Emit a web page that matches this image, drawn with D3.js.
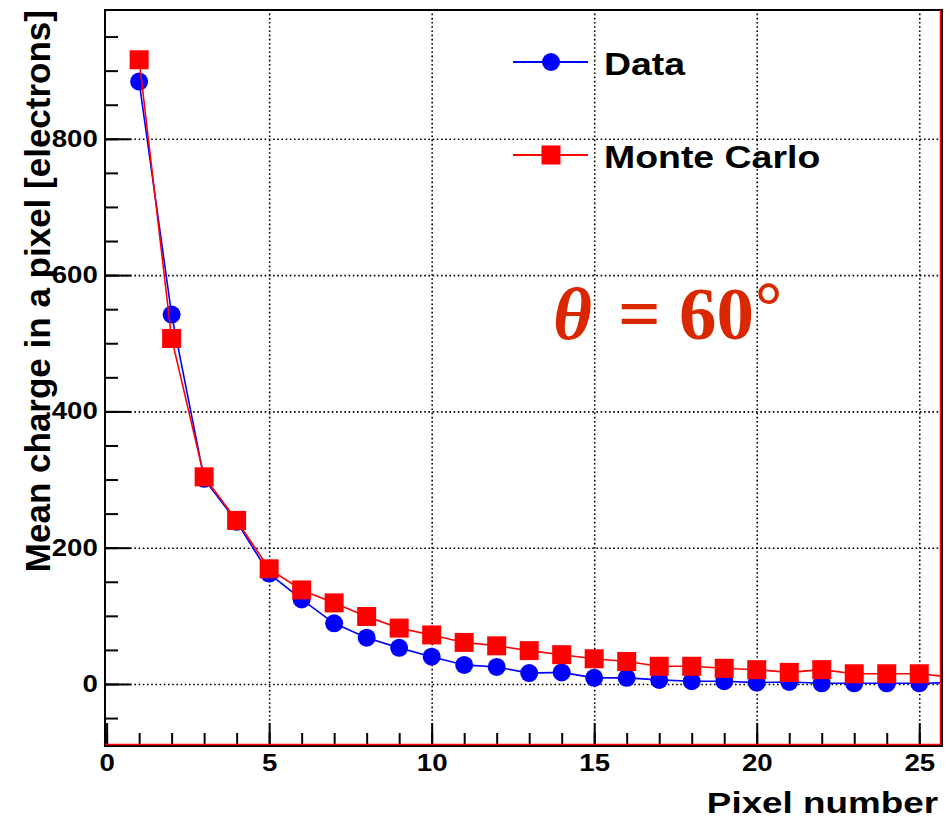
<!DOCTYPE html>
<html>
<head>
<meta charset="utf-8">
<script src="https://cdn.jsdelivr.net/npm/d3@7"></script>
<style>
  body { margin: 0; background: #fff; }
  text { font-family: 'Liberation Sans', Arial, sans-serif; font-weight: bold; }
</style>
</head>
<body>
<div id="wrapper"></div>
<script>
// pixel index (26 lies just past the frame, the lines run into the edge)
const pixels = [1, 2, 3, 4, 5, 6, 7, 8, 9, 10, 11, 12, 13, 14, 15, 16, 17, 18, 19, 20, 21, 22, 23, 24, 25, 26];
const dataValues = [884, 542, 301, 238, 162, 124, 89, 68, 53, 40, 28, 25, 16, 17, 9, 9, 6, 4, 4, 2, 3, 1, 1, 1, 1, 2];
const mcValues = [916, 507, 304, 240, 169, 138, 119, 99, 82, 72, 61, 56, 49, 43, 37, 33, 26, 26, 23, 21, 17, 21, 15, 15, 15, 10];
const xMajorTicks = [0, 5, 10, 15, 20, 25];
const yMajorTicks = [0, 200, 400, 600, 800];
const legendLabels = ['Data', 'Monte Carlo'];

const width = 950;
const height = 821;
const frame = { left: 105, top: 10, right: 942, bottom: 746 };
const stretch = 1.2; // the sans labels are drawn wide in the original

const svg = d3.select('#wrapper')
  .append('svg')
  .attr('width', width)
  .attr('height', height);

const xScale = d3.scaleLinear()
  .domain([-0.05, 25.7])
  .range([frame.left, frame.right]);

const yScale = d3.scaleLinear()
  .domain([-91, 989])
  .range([frame.bottom, frame.top]);

const xMinor = d3.range(0, 26, 1);
const yMinor = d3.range(-50, 989, 50);

svg.append('clipPath').attr('id', 'clip')
  .append('rect')
  .attr('x', frame.left)
  .attr('y', frame.top)
  .attr('width', frame.right - frame.left)
  .attr('height', frame.bottom - frame.top);

// grid
const dotted = (g) => {
  g.select('.domain').remove();
  g.selectAll('text').remove();
  g.selectAll('line')
    .attr('stroke', '#000')
    .attr('stroke-width', 1.6)
    .attr('stroke-dasharray', '1.6 2.6');
};

svg.append('g')
  .attr('transform', `translate(0,${frame.bottom})`)
  .call(d3.axisBottom(xScale).tickValues(xMajorTicks.slice(1))
    .tickSize(-(frame.bottom - frame.top)))
  .call(dotted);

svg.append('g')
  .attr('transform', `translate(${frame.left},0)`)
  .call(d3.axisLeft(yScale).tickValues(yMajorTicks)
    .tickSize(-(frame.right - frame.left)))
  .call(dotted);

// axes ticks (inside the frame, ROOT style)
const styleTicks = (g) => {
  g.select('.domain').remove();
  g.selectAll('line').attr('stroke', '#000').attr('stroke-width', 2);
};

svg.append('g')
  .attr('transform', `translate(0,${frame.bottom})`)
  .call(d3.axisBottom(xScale).tickValues(xMinor).tickSize(-13).tickFormat(''))
  .call(styleTicks);

svg.append('g')
  .attr('transform', `translate(${frame.left},0)`)
  .call(d3.axisLeft(yScale).tickValues(yMinor).tickSize(-13).tickFormat(''))
  .call(styleTicks);

const xAxis = svg.append('g')
  .attr('transform', `translate(0,${frame.bottom})`)
  .call(d3.axisBottom(xScale).tickValues(xMajorTicks).tickSize(-23).tickPadding(9))
  .call(styleTicks);
xAxis.selectAll('text')
  .attr('fill', '#000')
  .attr('transform', `scale(${stretch},1)`)
  .style('font-size', '23px')
  .style('font-family', "'Liberation Sans', Arial, sans-serif");

const yAxis = svg.append('g')
  .attr('transform', `translate(${frame.left},0)`)
  .call(d3.axisLeft(yScale).tickValues(yMajorTicks).tickSize(-26).tickPadding(6))
  .call(styleTicks);
yAxis.selectAll('text')
  .attr('fill', '#000')
  .attr('transform', `scale(${stretch},1)`)
  .style('font-size', '23px')
  .style('font-family', "'Liberation Sans', Arial, sans-serif");

// series
const dataPts = pixels.map((p, i) => ({ x: p, y: dataValues[i] }));
const mcPts = pixels.map((p, i) => ({ x: p, y: mcValues[i] }));
const line = d3.line().x((d) => xScale(d.x)).y((d) => yScale(d.y));

const plot = svg.append('g').attr('clip-path', 'url(#clip)');

plot.append('path')
  .datum(dataPts)
  .attr('d', line)
  .attr('fill', 'none')
  .attr('stroke', '#0000ff')
  .attr('stroke-width', 1.6);

plot.selectAll('.dot')
  .data(dataPts)
  .join('circle')
  .attr('class', 'dot')
  .attr('cx', (d) => xScale(d.x))
  .attr('cy', (d) => yScale(d.y))
  .attr('r', 9)
  .attr('fill', '#0000ff');

plot.append('path')
  .datum(mcPts)
  .attr('d', line)
  .attr('fill', 'none')
  .attr('stroke', '#ff0000')
  .attr('stroke-width', 1.6);

const sq = 19;
plot.selectAll('.sq')
  .data(mcPts)
  .join('rect')
  .attr('class', 'sq')
  .attr('x', (d) => xScale(d.x) - sq / 2)
  .attr('y', (d) => yScale(d.y) - sq / 2)
  .attr('width', sq)
  .attr('height', sq)
  .attr('fill', '#ff0000');

// frame
svg.append('rect')
  .attr('x', frame.left)
  .attr('y', frame.top)
  .attr('width', frame.right - frame.left)
  .attr('height', frame.bottom - frame.top)
  .attr('fill', 'none')
  .attr('stroke', '#000')
  .attr('stroke-width', 2);

// red histogram edges on bottom and right
svg.append('path')
  .attr('d', `M${frame.left},${frame.bottom - 1.5}H${frame.right - 1.5}V${frame.top}`)
  .attr('fill', 'none')
  .attr('stroke', '#ff0000')
  .attr('stroke-width', 1.5);

// legend
const legend = svg.append('g');
const legendRows = [
  { y: 62, color: '#0000ff', shape: 'circle' },
  { y: 155, color: '#ff0000', shape: 'square' },
];
legendRows.forEach((row, i) => {
  legend.append('line')
    .attr('x1', 513).attr('x2', 588)
    .attr('y1', row.y).attr('y2', row.y)
    .attr('stroke', row.color)
    .attr('stroke-width', 1.8);
  if (row.shape === 'circle') {
    legend.append('circle')
      .attr('cx', 551).attr('cy', row.y).attr('r', 9).attr('fill', row.color);
  } else {
    legend.append('rect')
      .attr('x', 551 - sq / 2).attr('y', row.y - sq / 2)
      .attr('width', sq).attr('height', sq).attr('fill', row.color);
  }
  legend.append('text')
    .attr('transform', `translate(604,${row.y + 13}) scale(1.17,1)`)
    .style('font-size', '32px')
    .attr('fill', '#000')
    .text(legendLabels[i]);
});

// axis titles
svg.append('text')
  .attr('transform', 'rotate(-90)')
  .attr('x', -10)
  .attr('y', 50)
  .attr('text-anchor', 'end')
  .style('font-size', '35px')
  .attr('fill', '#000')
  .text('Mean charge in a pixel [electrons]');

svg.append('text')
  .attr('transform', 'translate(938,813) scale(1.27,1)')
  .attr('text-anchor', 'end')
  .style('font-size', '29px')
  .attr('fill', '#000')
  .text('Pixel number');

// angle annotation
const angle = svg.append('text')
  .attr('y', 339)
  .style('font-family', "'Liberation Serif', 'DejaVu Serif', serif")
  .style('font-size', '75px')
  .attr('fill', '#d92800');
angle.append('tspan').attr('x', 553).style('font-style', 'italic').text('θ');
angle.append('tspan').attr('x', 618).text('=');
angle.append('tspan').attr('x', 679).text('60');
angle.append('tspan').attr('x', 755).attr('dy', -10).style('font-size', '68px').text('°');
</script>
</body>
</html>
